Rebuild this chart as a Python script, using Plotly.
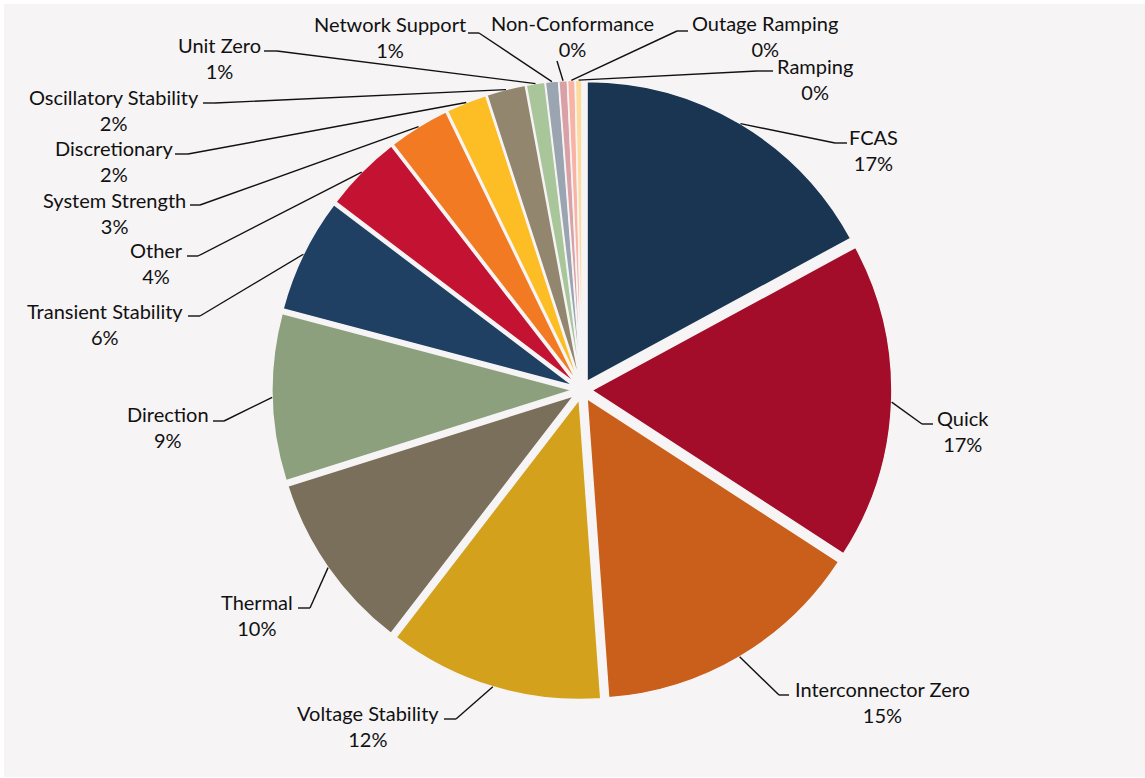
import math
import plotly.graph_objects as go

# ---------------- data ----------------
categories = ["FCAS", "Quick", "Interconnector Zero", "Voltage Stability", "Thermal",
              "Direction", "Transient Stability", "Other", "System Strength",
              "Discretionary", "Oscillatory Stability", "Unit Zero", "Network Support",
              "Non-Conformance", "Outage Ramping", "Ramping"]
shares = [17.1, 17.1, 14.7, 11.6, 9.7, 9.0, 6.2, 4.2, 3.3, 2.2, 2.1, 1.0, 0.7, 0.45, 0.4, 0.35]
colors = ["#1a3551", "#a30d29", "#c95f1a", "#d3a11c", "#7a6f5b", "#8ca07e", "#1f4062",
          "#c41332", "#f27a22", "#fdbd24", "#93866f", "#a9c59a", "#9aa5b1", "#d9a0a6",
          "#f8b3a3", "#fddb9c"]

# ---------------- layout / style ----------------
W, H = 1145, 778
BG = "#f6f4f5"
PULL = 0.033
CX, CY, R = 582.0, 390.0, 300.0
HALF = R * (1 + PULL)
FONT = "Lato"
FS = 20

# label placement (pixels): text centre x, first-line centre y, stub (x_elbow, x_end, y)
label_pos = {
    "FCAS": (873, 137, (835, 847, 143)),
    "Quick": (963, 418, (922, 933, 424)),
    "Interconnector Zero": (882, 689, (779, 789, 695)),
    "Voltage Stability": (368, 713, (456, 444, 719)),
    "Thermal": (257, 602, (310, 298, 608)),
    "Direction": (168, 414, (224, 213, 421)),
    "Transient Stability": (105, 311, (200, 188, 316)),
    "Other": (156, 250, (198, 187, 256)),
    "System Strength": (114, 200, (200, 190, 205)),
    "Discretionary": (114, 148, (188, 175, 154)),
    "Oscillatory Stability": (114, 97, (215, 203, 103)),
    "Unit Zero": (219, 45, (277, 264, 51)),
    "Network Support": (390, 24, (479, 468, 33)),
    "Non-Conformance": (572, 23, (557, None, 61)),
    "Outage Ramping": (765, 23, (677, 688, 31)),
    "Ramping": (815, 66, (757, 773, 71)),
}


def px(x):
    return x / W


def py(y):
    return 1 - y / H


fig = go.Figure()
fig.add_trace(go.Pie(
    labels=categories,
    values=shares,
    sort=False,
    direction="clockwise",
    rotation=0,
    pull=[PULL] * len(shares),
    marker=dict(colors=colors, line=dict(color=BG, width=1.5)),
    textinfo="none",
    hoverinfo="label+percent",
    showlegend=False,
    domain=dict(x=[px(CX - HALF), px(CX + HALF)], y=[py(CY + HALF), py(CY - HALF)]),
))

total = sum(shares)
shapes = [dict(type="rect", xref="paper", yref="paper", x0=px(4), x1=1, y0=py(777), y1=py(4),
               fillcolor=BG, line=dict(width=0), layer="below")]
annotations = []
cum = 0.0
for name, v in zip(categories, shares):
    mid = (cum + v / 2) / total * 2 * math.pi
    cum += v
    ex = CX + R * (1 + PULL) * math.sin(mid)
    ey = CY - R * (1 + PULL) * math.cos(mid)
    tx, ty, stub = label_pos[name]
    pct = round(v / total * 100)
    annotations.append(dict(
        x=px(tx), y=py(ty + 13), xref="paper", yref="paper",
        text=f"{name}<br>{pct}%", showarrow=False, xanchor="center", yanchor="middle",
        align="center", font=dict(family=FONT, size=FS, color="#111111")))
    elx, stx, sy = stub
    shapes.append(dict(type="line", xref="paper", yref="paper",
                       x0=px(ex), y0=py(ey), x1=px(elx), y1=py(sy),
                       line=dict(color="#111111", width=1.4)))
    if stx is not None:
        shapes.append(dict(type="line", xref="paper", yref="paper",
                           x0=px(elx), y0=py(sy), x1=px(stx), y1=py(sy),
                           line=dict(color="#111111", width=1.4)))

fig.update_layout(
    width=W, height=H, autosize=False,
    margin=dict(l=0, r=0, t=0, b=0),
    paper_bgcolor="white", plot_bgcolor="white",
    shapes=shapes, annotations=annotations,
    font=dict(family=FONT, size=FS, color="#111111"),
)

fig.write_html("out.html", config={"displayModeBar": False},
               post_script="document.body.style.margin='0';document.body.style.overflow='hidden';")
